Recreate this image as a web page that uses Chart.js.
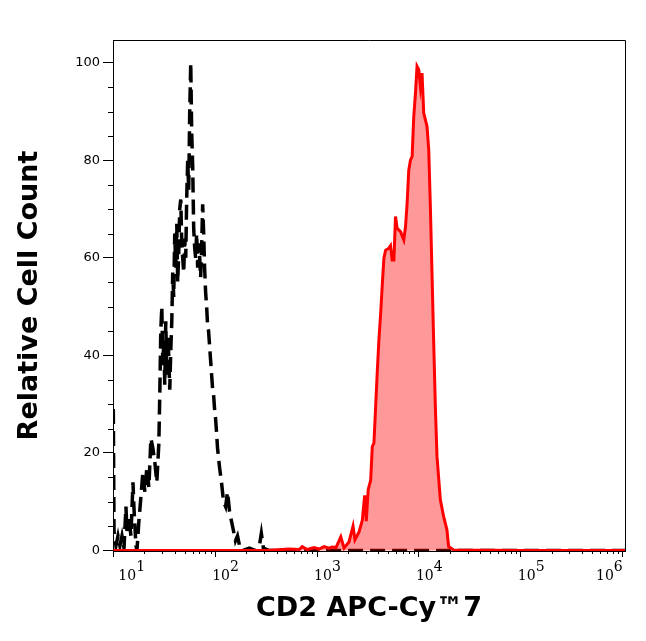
<!DOCTYPE html>
<html>
<head>
<meta charset="utf-8">
<script src="https://cdn.jsdelivr.net/npm/chart.js@4"></script>
<style>
  html, body { margin: 0; padding: 0; background: #fff; overflow: hidden; }
  canvas { display: block; }
</style>
</head>
<body>
<canvas id="chart" width="646" height="641"></canvas>
<script>
// control (unstained) histogram, x as log10 of intensity
const ctrlExp = [1.000, 1.007, 1.026, 1.046, 1.065, 1.085, 1.105, 1.124, 1.134, 1.153, 1.173, 1.193, 1.202, 1.222, 1.232,
  1.251, 1.271, 1.290, 1.310, 1.329, 1.349, 1.369, 1.388, 1.408, 1.427, 1.447, 1.457, 1.466, 1.476, 1.486, 1.496,
  1.505, 1.515, 1.525, 1.535, 1.544, 1.554, 1.564, 1.574, 1.583, 1.593, 1.603, 1.613, 1.623, 1.632, 1.642, 1.652,
  1.662, 1.672, 1.681, 1.691, 1.701, 1.711, 1.720, 1.730, 1.740, 1.750, 1.760, 1.769, 1.779, 1.789, 1.799, 1.808,
  1.818, 1.828, 1.838, 1.848, 1.857, 1.867, 1.877, 1.887, 1.896, 1.906, 1.916, 1.926, 1.935, 1.945, 1.955, 1.965,
  1.975, 1.984, 1.994, 2.004, 2.014, 2.023, 2.033, 2.043, 2.062, 2.082, 2.102, 2.121, 2.141, 2.160, 2.180, 2.199,
  2.219, 2.239, 2.268, 2.336, 2.395, 2.434, 2.453, 2.473, 2.532, 3.0, 4.0, 5.0, 6.1];
const ctrlCount = [29, 4, 1, 3, 1, 3, 0.5, 9, 4, 7, 3, 14, 9, 1, 0,
  6, 11, 16, 12, 17, 13, 23, 21, 18, 14, 22, 33, 45, 50, 38, 43,
  34, 47, 36, 44, 40, 33, 41, 47, 57, 52, 65, 58, 67, 55, 61, 70,
  72, 63, 60, 57, 64, 60, 72, 80, 74, 90, 100, 86, 79, 66, 62, 60,
  65, 58, 63, 60, 56, 62, 71, 65, 58, 53, 50, 46, 45, 42, 39, 36,
  33, 32, 29, 27, 24, 21, 19, 17, 14, 10, 9, 12, 8, 6, 4, 2,
  3, 1, 0, 0.5, 0, 1, 3.5, 0.5, 0, 0, 0, 0, 0];

// CD2 APC-Cy7 stained histogram
const cd2Exp = [1.0, 2.5, 2.726, 2.825, 2.854, 2.903, 2.971, 3.02, 3.069, 3.118, 3.147, 3.186, 3.233, 3.265, 3.314,
  3.353, 3.372, 3.412, 3.444, 3.467, 3.483, 3.502, 3.526, 3.542, 3.558, 3.575, 3.590, 3.607, 3.624, 3.639, 3.656,
  3.673, 3.705, 3.721, 3.737, 3.754, 3.770, 3.786, 3.819, 3.851, 3.868, 3.884, 3.900, 3.917, 3.933, 3.949, 3.966,
  3.981, 3.998, 4.015, 4.030, 4.047, 4.079, 4.096, 4.112, 4.128, 4.144, 4.161, 4.177, 4.210, 4.242, 4.275, 4.291,
  4.340, 5.0, 6.1];
const cd2Count = [0, 0, 0.3, 0.2, 0.8, 0.2, 0.6, 0.3, 0.8, 0.5, 0.7, 0.6, 2.8, 0.5, 1.8,
  5, 2.2, 3.8, 6.2, 11.3, 6, 12.5, 14.4, 21.3, 22, 29.5, 36.3, 43.2, 48.6, 54.1, 60,
  61.6, 62, 62.5, 59.6, 59.6, 68.5, 66.1, 65.4, 63.7, 66.4, 71.2, 78, 80.1, 80.8, 89, 93.8,
  99.3, 98.6, 95.1, 97.9, 89.7, 87, 82.2, 70.5, 56.9, 43.2, 29.5, 19.3, 10.4, 7, 4.2, 0.8,
  0.1, 0, 0];

// axis ticks
const xDecades = [1, 2, 3, 4, 5, 6];
const yTicks = [0, 20, 40, 60, 80, 100];
const yMinor = [5, 10, 15, 25, 30, 35, 45, 50, 55, 65, 70, 75, 85, 90, 95];

const toPoints = (exps, counts) => exps.map((e, i) => ({ x: Math.pow(10, e), y: counts[i] }));

// minor ticks, frame and 10^n labels
const decor = {
  id: 'decor',
  afterDraw(chart) {
    const ctx = chart.ctx;
    const a = chart.chartArea;
    const xs = chart.scales.x;
    const ys = chart.scales.y;
    ctx.save();
    ctx.strokeStyle = '#000';
    ctx.lineWidth = 1;
    ctx.beginPath();
    // top and right edges of the box
    ctx.moveTo(a.left, a.top + 0.5);
    ctx.lineTo(a.right + 0.5, a.top + 0.5);
    ctx.lineTo(a.right + 0.5, a.bottom);
    // y minor ticks
    yMinor.forEach(v => {
      const y = Math.round(ys.getPixelForValue(v)) + 0.5;
      ctx.moveTo(a.left - 5, y);
      ctx.lineTo(a.left, y);
    });
    // x minor ticks
    for (let n = 1; n <= 5; n++) {
      for (let m = 2; m <= 9; m++) {
        const x = Math.round(xs.getPixelForValue(m * Math.pow(10, n))) + 0.5;
        ctx.moveTo(x, a.bottom);
        ctx.lineTo(x, a.bottom + 3);
      }
    }
    ctx.stroke();

    // tick labels like 10^3
    ctx.fillStyle = '#000';
    ctx.font = '14px "DejaVu Serif"';
    ctx.textBaseline = 'alphabetic';
    ctx.textAlign = 'left';
    xDecades.forEach((k, i) => {
      const px = xs.getPixelForValue(Math.pow(10, k));
      const w1 = ctx.measureText('10').width;
      const w2 = ctx.measureText(String(k)).width;
      let start = px - 3;
      if (i === 0) start = px + 5;
      if (i === xDecades.length - 1) start = px - w1 - w2;
      ctx.fillText('10', start, 580);
      ctx.fillText(String(k), start + w1, 571);
    });
    ctx.restore();
  }
};

new Chart(document.getElementById('chart'), {
  type: 'line',
  plugins: [decor],
  data: {
    datasets: [
      {
        label: 'CD2 APC-Cy7',
        data: toPoints(cd2Exp, cd2Count),
        borderColor: '#ff0000',
        backgroundColor: 'rgba(255,0,0,0.4)',
        borderWidth: 3,
        fill: 'origin',
        pointRadius: 0,
        tension: 0,
        order: 0
      },
      {
        label: 'control',
        data: toPoints(ctrlExp, ctrlCount),
        borderColor: '#000000',
        borderWidth: 3.5,
        borderDash: [15, 7],
        fill: false,
        pointRadius: 0,
        tension: 0,
        order: 1
      }
    ]
  },
  options: {
    responsive: false,
    devicePixelRatio: 1,
    animation: false,
    layout: { padding: { left: 0, right: 21, top: 40, bottom: 0 } },
    plugins: {
      legend: { display: false },
      tooltip: { enabled: false }
    },
    scales: {
      x: {
        type: 'logarithmic',
        min: 9.93,
        max: 1.053e6,
        afterBuildTicks: (scale) => {
          scale.ticks = xDecades.map(k => ({ value: Math.pow(10, k), major: true }));
        },
        afterFit: (scale) => { scale.height = 90; },
        ticks: { display: false },
        grid: { drawOnChartArea: false, tickLength: 6, color: '#000' },
        border: { display: true, color: '#000', width: 1 },
        title: {
          display: true,
          text: 'CD2 APC-Cy™7',
          color: '#000',
          font: { family: 'DejaVu Sans', size: 27, weight: 'bold' },
          padding: { top: 0, bottom: 16 }
        }
      },
      y: {
        type: 'linear',
        min: -0.1,
        max: 104.7,
        afterBuildTicks: (scale) => {
          scale.ticks = yTicks.map(v => ({ value: v }));
        },
        afterFit: (scale) => { scale.width = 113; },
        ticks: {
          color: '#000',
          padding: 3,
          font: { family: 'DejaVu Sans', size: 13 }
        },
        grid: { drawOnChartArea: false, tickLength: 10, color: '#000' },
        border: { display: true, color: '#000', width: 1 },
        title: {
          display: true,
          text: 'Relative Cell Count',
          color: '#000',
          font: { family: 'DejaVu Sans', size: 27, weight: 'bold' },
          padding: { top: 14, bottom: 0 }
        }
      }
    }
  }
});
</script>
</body>
</html>
